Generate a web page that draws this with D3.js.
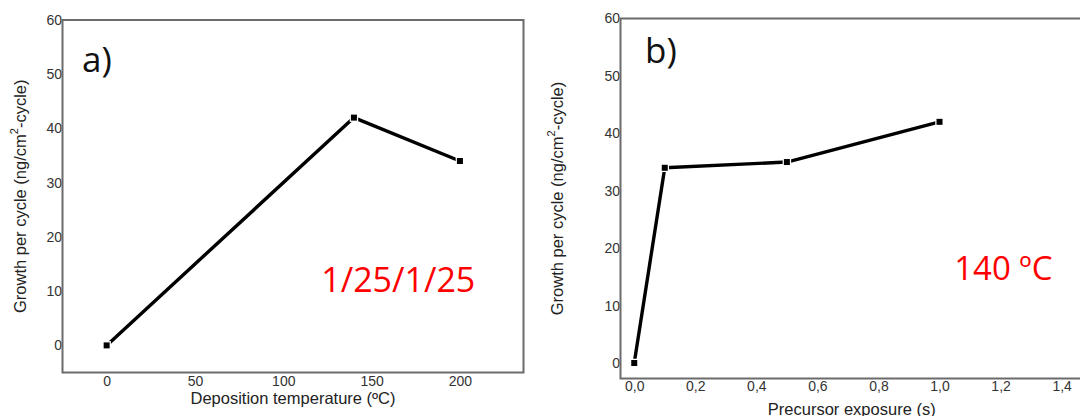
<!DOCTYPE html>
<html>
<head>
<meta charset="utf-8">
<script src="https://cdn.jsdelivr.net/npm/d3@7"></script>
<style>
  html, body { margin: 0; padding: 0; background: #fff; }
  svg { display: block; }
</style>
</head>
<body>
<svg id="chart" width="1080" height="416"></svg>
<script>
// Growth per cycle vs deposition temperature (panel a)
const tempC = [0, 140, 200];
const gpcByTemp = [0, 42, 34];

// Growth per cycle vs precursor exposure at 140 ºC (panel b)
const exposureS = [0, 0.1, 0.5, 1.0];
const gpcByExposure = [0, 34, 35, 42];

// Tick values
const yTicks = [0, 10, 20, 30, 40, 50, 60];
const tempTicks = [0, 50, 100, 150, 200];
const exposureTicks = [0, 0.2, 0.4, 0.6, 0.8, 1.0, 1.2, 1.4];

const yTitle = "Growth per cycle (ng/cm";
const yTitleSup = "2";
const yTitleEnd = "-cycle)";

const svg = d3.select("#chart");
const commaFmt = d3.formatLocale({ decimal: ",", thousands: ".", grouping: [3], currency: ["", ""] }).format(".1f");
const sansFont = "'Liberation Sans', Arial, sans-serif";
const noteFont = "'Open Sans', 'Noto Sans', sans-serif";

function panel(opts) {
  const g = svg.append("g");
  const x = d3.scaleLinear().domain(opts.xDomain).range([opts.left, opts.right]);
  const y = d3.scaleLinear().domain(opts.yDomain).range([opts.bottom, opts.top]);

  // y axis labels (no tick marks)
  const ya = g.append("g")
    .attr("transform", `translate(${opts.left},0)`)
    .call(d3.axisLeft(y).tickValues(yTicks).tickSize(0).tickPadding(0.5).tickFormat(d3.format("d")));
  ya.select(".domain").remove();
  ya.selectAll("text")
    .attr("font-family", sansFont)
    .attr("font-size", 14).attr("fill", "#333");

  // x axis labels
  const xa = g.append("g")
    .attr("transform", `translate(0,${opts.bottom})`)
    .call(d3.axisBottom(x).tickValues(opts.xTicks).tickSize(0).tickPadding(opts.xPad).tickFormat(opts.xFmt));
  xa.select(".domain").remove();
  xa.selectAll("text")
    .attr("font-family", sansFont)
    .attr("font-size", 14).attr("fill", "#333");

  // frame
  g.append("rect")
    .attr("x", opts.left).attr("y", opts.top)
    .attr("width", opts.right - opts.left).attr("height", opts.bottom - opts.top)
    .attr("fill", "none").attr("stroke", "#6b6b6b").attr("stroke-width", 2);

  // data line
  const pts = opts.xs.map((v, i) => [v, opts.ys[i]]);
  g.append("path")
    .datum(pts)
    .attr("d", d3.line().x(d => x(d[0])).y(d => y(d[1])))
    .attr("fill", "none").attr("stroke", "#000").attr("stroke-width", 3.4)
    .attr("stroke-linejoin", "round");

  // square markers with white halo
  g.selectAll("rect.mk").data(pts).join("rect")
    .attr("class", "mk")
    .attr("x", d => x(d[0]) - 3).attr("y", d => y(d[1]) - 3)
    .attr("width", 6).attr("height", 6)
    .attr("fill", "#000").attr("stroke", "#fff").attr("stroke-width", 2.5)
    .attr("paint-order", "stroke");

  // x title
  g.append("text")
    .attr("x", (opts.left + opts.right) / 2).attr("y", opts.xTitleY)
    .attr("text-anchor", "middle")
    .attr("font-family", sansFont)
    .attr("font-size", 16.5).attr("fill", "#222")
    .text(opts.xTitle);

  // y title with superscript
  const yt = g.append("text")
    .attr("transform", `translate(${opts.yTitleX},${(opts.top + opts.bottom) / 2}) rotate(-90)`)
    .attr("text-anchor", "middle")
    .attr("font-family", sansFont)
    .attr("font-size", 16.5).attr("fill", "#222");
  yt.append("tspan").text(yTitle);
  yt.append("tspan").attr("dy", -8).attr("font-size", 11).text(yTitleSup);
  yt.append("tspan").attr("dy", 8).text(yTitleEnd);

  // panel letter
  g.append("text")
    .attr("x", opts.letterX).attr("y", opts.letterY)
    .attr("font-family", noteFont)
    .attr("font-size", 35).attr("fill", "#111")
    .text(opts.letter);

  // red condition label
  g.append("text")
    .attr("x", x(opts.noteAt[0])).attr("y", y(opts.noteAt[1]))
    .attr("font-family", noteFont)
    .attr("font-size", opts.noteSize).attr("fill", "#ff0000")
    .text(opts.note);
}

panel({
  left: 62.5, right: 523.5, top: 20, bottom: 372.5,
  xDomain: [-25, 236], yDomain: [-5, 60],
  xTicks: tempTicks, xFmt: d3.format("d"), xPad: 4,
  xs: tempC, ys: gpcByTemp,
  xTitle: "Deposition temperature (ºC)", xTitleY: 404,
  yTitleX: 26,
  letter: "a)", letterX: 82, letterY: 71.5,
  note: "1/25/1/25", noteAt: [121.5, 9.9], noteSize: 34
});

panel({
  left: 620.5, right: 1083, top: 18.5, bottom: 378.5,
  xDomain: [-0.045, 1.47], yDomain: [-2.7, 60],
  xTicks: exposureTicks, xFmt: commaFmt, xPad: 3,
  xs: exposureS, ys: gpcByExposure,
  xTitle: "Precursor exposure (s)", xTitleY: 414.5,
  yTitleX: 563,
  letter: "b)", letterX: 645, letterY: 63,
  note: "140 ºC", noteAt: [1.048, 14.45], noteSize: 33
});
</script>
</body>
</html>
